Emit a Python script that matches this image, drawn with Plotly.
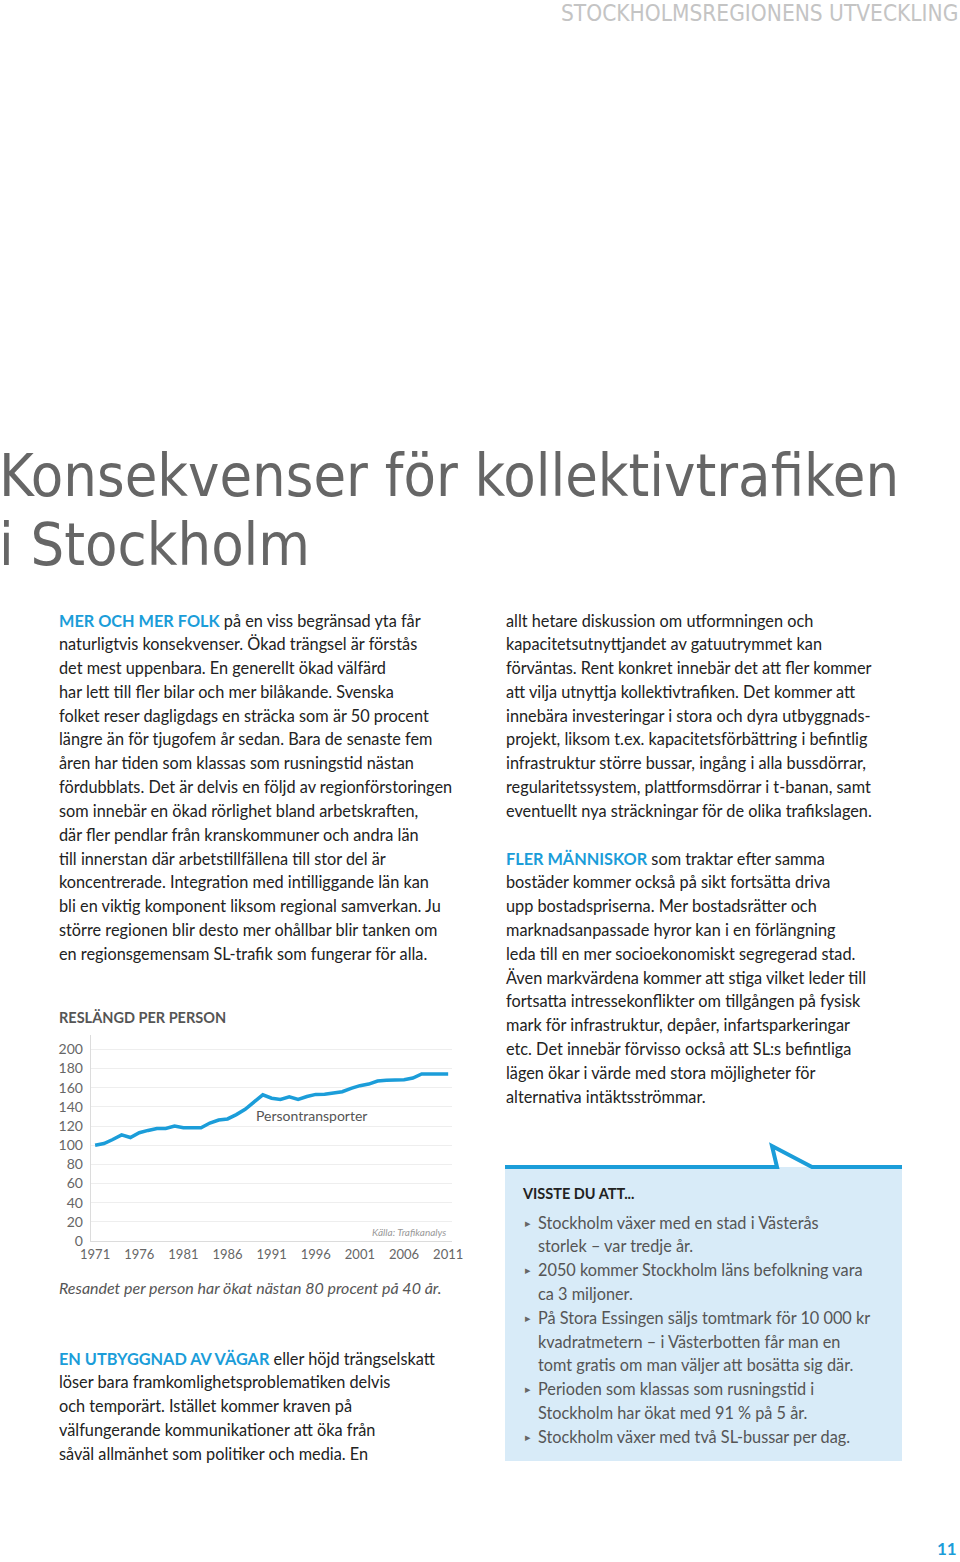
import plotly.graph_objects as go

# ---------------- data ----------------
years = list(range(1971, 2012))
reslangd = [100, 101.7, 105.9, 110.8, 108, 113, 115.4, 117.5, 117.5, 120,
            118.2, 118.4, 118.2, 123.1, 126.3, 127.4, 131.9, 137.5, 144.9, 152.6,
            149, 147.7, 150.5, 147.7, 150.8, 153, 153.2, 154.7, 155.8, 159.3,
            162.1, 163.8, 167, 167.7, 168, 168.4, 170.1, 174.3, 174.3, 174.3, 174.3]
x_ticks = [1971, 1976, 1981, 1986, 1991, 1996, 2001, 2006, 2011]
y_ticks = list(range(0, 201, 20))
series_name = "Persontransporter"
chart_title = "RESLÄNGD PER PERSON"
source_text = "Källa: Trafikanalys"
caption_text = "Resandet per person har ökat nästan 80 procent på 40 år."

header_text = "STOCKHOLMSREGIONENS UTVECKLING"
title_lines = ["Konsekvenser för kollektivtrafiken", "i Stockholm"]

left_lead = "MER OCH MER FOLK"
left_lines = [
    " på en viss begränsad yta får",
    "naturligtvis konsekvenser. Ökad trängsel är förstås",
    "det mest uppenbara. En generellt ökad välfärd",
    "har lett till fler bilar och mer bilåkande. Svenska",
    "folket reser dagligdags en sträcka som är 50 procent",
    "längre än för tjugofem år sedan. Bara de senaste fem",
    "åren har tiden som klassas som rusningstid nästan",
    "fördubblats. Det är delvis en följd av regionförstoringen",
    "som innebär en ökad rörlighet bland arbetskraften,",
    "där fler pendlar från kranskommuner och andra län",
    "till innerstan där arbetstillfällena till stor del är",
    "koncentrerade. Integration med intilliggande län kan",
    "bli en viktig komponent liksom regional samverkan. Ju",
    "större regionen blir desto mer ohållbar blir tanken om",
    "en regionsgemensam SL-trafik som fungerar för alla.",
]

right_lines_a = [
    "allt hetare diskussion om utformningen och",
    "kapacitetsutnyttjandet av gatuutrymmet kan",
    "förväntas. Rent konkret innebär det att fler kommer",
    "att vilja utnyttja kollektivtrafiken. Det kommer att",
    "innebära investeringar i stora och dyra utbyggnads-",
    "projekt, liksom t.ex. kapacitetsförbättring i befintlig",
    "infrastruktur större bussar, ingång i alla bussdörrar,",
    "regularitetssystem, plattformsdörrar i t-banan, samt",
    "eventuellt nya sträckningar för de olika trafikslagen.",
]
right_lead = "FLER MÄNNISKOR"
right_lines_b = [
    " som traktar efter samma",
    "bostäder kommer också på sikt fortsätta driva",
    "upp bostadspriserna. Mer bostadsrätter och",
    "marknadsanpassade hyror kan i en förlängning",
    "leda till en mer socioekonomiskt segregerad stad.",
    "Även markvärdena kommer att stiga vilket leder till",
    "fortsatta intressekonflikter om tillgången på fysisk",
    "mark för infrastruktur, depåer, infartsparkeringar",
    "etc. Det innebär förvisso också att SL:s befintliga",
    "lägen ökar i värde med stora möjligheter för",
    "alternativa intäktsströmmar.",
]

bottom_lead = "EN UTBYGGNAD AV VÄGAR"
bottom_lines = [
    " eller höjd trängselskatt",
    "löser bara framkomlighetsproblematiken delvis",
    "och temporärt. Istället kommer kraven på",
    "välfungerande kommunikationer att öka från",
    "såväl allmänhet som politiker och media. En",
]

box_title = "VISSTE DU ATT..."
box_items = [
    ["Stockholm växer med en stad i Västerås", "storlek – var tredje år."],
    ["2050 kommer Stockholm läns befolkning vara", "ca 3 miljoner."],
    ["På Stora Essingen säljs tomtmark för 10 000 kr", "kvadratmetern – i Västerbotten får man en",
     "tomt gratis om man väljer att bosätta sig där."],
    ["Perioden som klassas som rusningstid i", "Stockholm har ökat med 91 % på 5 år."],
    ["Stockholm växer med två SL-bussar per dag."],
]
page_number = "11"

# ---------------- layout helpers ----------------
W, H = 960, 1562
BLUE = "#1b9dd9"
BODY_FONT = "Lato, Roboto, sans-serif"
COND_FONT = "DejaVu Sans Condensed, DejaVu Sans, sans-serif"


def px(x):
    return x / W


def py(y):
    return 1 - y / H


annotations = []


def text(x, y, s, size=16.3, color="#222", family=BODY_FONT, anchor="left", yanchor="middle"):
    dx = -2 if anchor == "left" else 2
    annotations.append(dict(x=px(x + dx), y=py(y), xref="paper", yref="paper", text=s,
                            showarrow=False, xanchor=anchor, yanchor=yanchor,
                            font=dict(size=size, color=color, family=family)))


def lead(s):
    return f"<span style='color:{BLUE}'><b>{s}</b></span>"


fig = go.Figure()
fig.add_trace(go.Scatter(x=years, y=reslangd, mode="lines", name=series_name,
                         line=dict(color=BLUE, width=3.5), hoverinfo="skip"))

# chart axes
fig.update_xaxes(domain=[px(90.7), px(451.7)], range=[1970.5, 2011.4],
                 tickvals=x_ticks, ticktext=[str(v) for v in x_ticks],
                 showgrid=False, showline=True, linecolor="#dcdcdc", linewidth=1,
                 ticks="", zeroline=False, ticklabelstandoff=1,
                 tickfont=dict(size=13, color="#666", family=BODY_FONT))
fig.update_yaxes(domain=[py(1241), py(1035)], range=[0, 215],
                 tickvals=y_ticks, showgrid=True, gridcolor="#eeeeee", gridwidth=1,
                 showline=True, linecolor="#dcdcdc", linewidth=1, ticks="", zeroline=False,
                 ticklabelstandoff=4,
                 tickfont=dict(size=14, color="#666", family=BODY_FONT))

# chart texts
annotations.append(dict(x=1989.0, y=131, xref="x", yref="y", text=series_name, showarrow=False,
                        xanchor="left", yanchor="middle",
                        font=dict(size=14, color="#555", family=BODY_FONT)))
annotations.append(dict(x=2011, y=9, xref="x", yref="y", text=f"<i>{source_text}</i>", showarrow=False,
                        xanchor="right", yanchor="middle",
                        font=dict(size=10, color="#999", family=BODY_FONT)))
text(59, 1017, f"<b>{chart_title}</b>", size=14.5, color="#555")
text(59, 1287, f"<i>{caption_text}</i>", size=16, color="#555")

# header & title
text(958, 13, header_text, size=22.5, color="#c4c4c4", family=COND_FONT, anchor="right")
text(-1, 476, title_lines[0], size=59, color="#666", family=COND_FONT)
text(-1, 544, title_lines[1], size=59, color="#666", family=COND_FONT)

LH = 23.8
# left column
for i, line in enumerate(left_lines):
    s = (lead(left_lead) + line) if i == 0 else line
    text(59, 620 + i * LH, s)

# right column
for i, line in enumerate(right_lines_a):
    text(506, 620 + i * LH, line)
for i, line in enumerate(right_lines_b):
    s = (lead(right_lead) + line) if i == 0 else line
    text(506, 858 + i * LH, s)

# bottom-left paragraph
for i, line in enumerate(bottom_lines):
    s = (lead(bottom_lead) + line) if i == 0 else line
    text(59, 1358 + i * LH, s)

# info box
shapes = [
    dict(type="rect", xref="paper", yref="paper", x0=px(505), x1=px(902), y0=py(1461), y1=py(1167),
         fillcolor="#d8ebf8", line=dict(width=0), layer="below"),
    dict(type="path", xref="paper", yref="paper",
         path=f"M {px(505)} {py(1167)} L {px(777)} {py(1167)} L {px(772)} {py(1146)} "
              f"L {px(812)} {py(1167)} L {px(902)} {py(1167)}",
         line=dict(color=BLUE, width=4)),
]
text(522, 1193, f"<b>{box_title}</b>", size=14.5, color="#222")
row = 0
for item in box_items:
    for j, line in enumerate(item):
        yy = 1222 + row * LH
        if j == 0:
            text(525, yy, "▸", size=11, color="#666")
        text(538, yy, line, color="#555")
        row += 1

text(957, 1548, f"<b>{page_number}</b>", size=17, color=BLUE, anchor="right")

fig.update_layout(width=W, height=H, margin=dict(l=0, r=0, t=0, b=0, autoexpand=False),
                  paper_bgcolor="white", plot_bgcolor="white", showlegend=False,
                  annotations=annotations, shapes=shapes, hovermode=False)

fig.write_html("out.html", config={"displayModeBar": False},
               post_script="document.body.style.margin='0';document.body.style.overflow='hidden';")
